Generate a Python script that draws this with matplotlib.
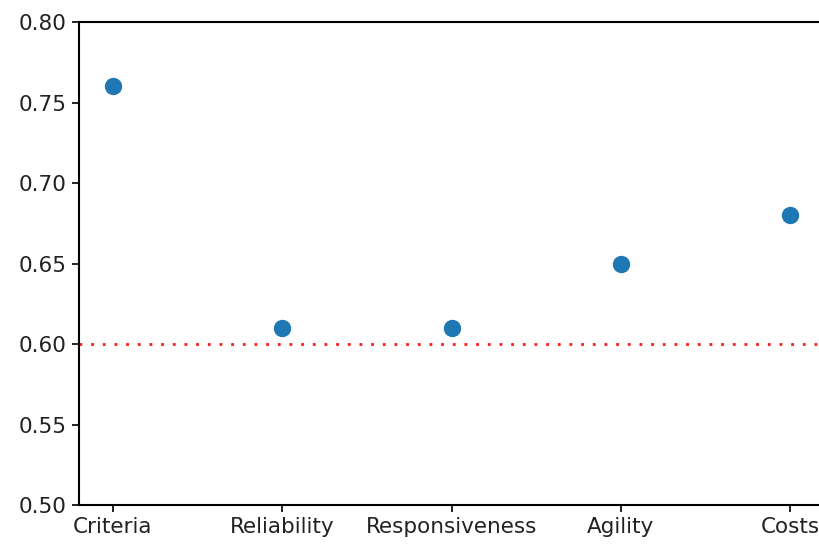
import matplotlib
matplotlib.use("Agg")
import matplotlib.pyplot as plt

# criteria scores against the acceptance threshold
criteria = ["Criteria", "Reliability", "Responsiveness", "Agility", "Costs"]
scores = [0.76, 0.61, 0.61, 0.65, 0.68]
threshold = 0.60

plt.rcParams["font.family"] = ["DejaVu Sans"]
plt.rcParams["font.size"] = 15.5

fig = plt.figure(figsize=(8.19, 5.45), dpi=100)
ax = fig.add_axes([0.0965, 0.0734, 0.9096, 0.8862])

x = list(range(len(criteria)))
ax.plot(x, scores, "o", color="#1f77b4", markersize=11.5, linestyle="none")
ax.axhline(threshold, color="#ff1a1a", linestyle=(0, (1, 3.2)), linewidth=2.0)

ax.set_xticks(x)
ax.set_xticklabels(criteria)
ax.set_ylim(0.50, 0.80)
ax.set_yticks([0.50, 0.55, 0.60, 0.65, 0.70, 0.75, 0.80])
ax.set_yticklabels(["0.50", "0.55", "0.60", "0.65", "0.70", "0.75", "0.80"])
ax.set_xlim(-0.2, 4.2)

# right edge falls outside the canvas
ax.spines["right"].set_visible(False)
for sp in ax.spines.values():
    sp.set_linewidth(1.5)
ax.tick_params(length=5, width=1.4, pad=4, colors="#222222")

fig.savefig("out.png", dpi=100)
